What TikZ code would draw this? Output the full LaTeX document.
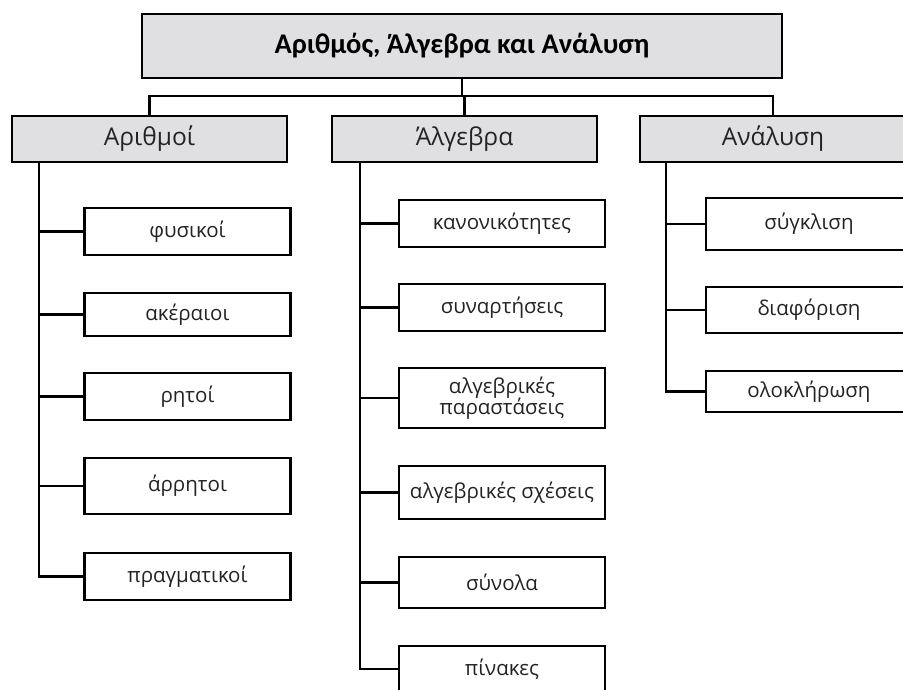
\documentclass[tikz,border=0pt]{standalone}
\usepackage{fontspec}
\setmainfont{Open Sans}
\newfontfamily\titlefont{Carlito}
\usetikzlibrary{positioning}
\definecolor{boxgray}{RGB}{224,224,226}
\definecolor{inkgray}{RGB}{35,35,35}

\begin{document}
\begin{tikzpicture}[x=1pt,y=-1pt,line width=2.2pt,align=center,
	topbox/.style={draw,fill=boxgray,minimum width=640pt,minimum height=64pt,font=\titlefont\bfseries\fontsize{28.5}{32}\selectfont},
	catbox/.style={draw,fill=boxgray,minimum height=46pt,text=inkgray,font=\fontsize{24.5}{28}\selectfont},
	itembox/.style={draw,fill=white,minimum width=206pt,inner sep=1pt,text=inkgray,font=\fontsize{20.5}{24}\selectfont}]
	\useasboundingbox (0,0) rectangle (903,689);
	\clip (0,0) rectangle (903,689);
		\node[topbox] (top) at (462,46) {Αριθμός, Άλγεβρα και Ανάλυση};
		\node[catbox,minimum width=275pt] (num) at (149.5,139) {Αριθμοί};
		\node[catbox,minimum width=265pt] (alg) at (464.5,139) {Άλγεβρα};
		\node[catbox,minimum width=266pt] (ana) at (773,139) {Ανάλυση};
		\coordinate (bus) at (462,96);
		\draw (top.south) -- (bus);
		\draw (num.north) |- (bus) -| (ana.north);
		\draw (alg.north) -- (alg.north |- bus);
		% Αριθμοί
		\foreach \n/\y/\h/\t in {n1/231.5/47/φυσικοί,n2/314.5/43/ακέραιοι,n3/396.5/47/ρητοί,n4/486/56/άρρητοι,n5/576.5/47/πραγματικοί}
			\node[itembox,minimum height=\h pt] (\n) at (187.5,\y) {\t};
		\coordinate (numspine) at (39,162);
		\draw (numspine) |- (n5.west);
		\foreach \n in {n1,n2,n3,n4}
			\draw (\n.west) -- (\n.west -| numspine);
		% Άλγεβρα
		\foreach \n/\y/\h/\t in {a1/223.5/47/κανονικότητες,a2/307.5/47/συναρτήσεις,a3/398/60/{αλγεβρικές\\[-3pt]παραστάσεις},a4/492.5/53/αλγεβρικές σχέσεις,a5/582.5/51/σύνολα,a6/669/46/πίνακες}
			\node[itembox,minimum height=\h pt] (\n) at (502,\y) {\t};
		\coordinate (algspine) at (360,162);
		\draw (algspine) |- (a6.west);
		\foreach \n in {a1,a2,a3,a4,a5}
			\draw (\n.west) -- (\n.west -| algspine);
		% Ανάλυση
		\foreach \n/\y/\h/\t in {s1/224/52/σύγκλιση,s2/310/46/διαφόριση,s3/391.5/41/ολοκλήρωση}
			\node[itembox,minimum height=\h pt] (\n) at (809,\y) {\t};
		\coordinate (anaspine) at (666,162);
		\draw (anaspine) |- (s3.west);
		\foreach \n in {s1,s2}
			\draw (\n.west) -- (\n.west -| anaspine);
\end{tikzpicture}
\end{document}
